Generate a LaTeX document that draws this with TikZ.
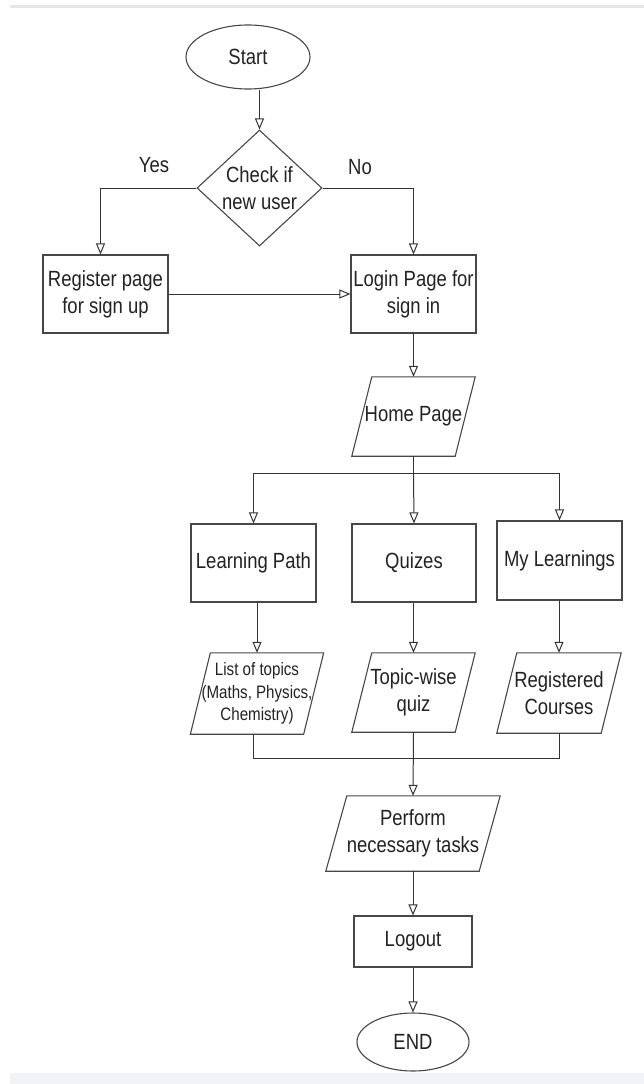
\documentclass[tikz,border=0pt]{standalone}
\usepackage{fontspec}
\setmainfont{Liberation Sans}[FakeStretch=0.84]
\usetikzlibrary{shapes.geometric,arrows.meta}
\definecolor{ink}{HTML}{222222}
\definecolor{edge}{HTML}{474747}
\definecolor{wire}{HTML}{333333}
\definecolor{topline}{HTML}{E6E6E6}
\definecolor{band}{HTML}{F1F3F6}
\newcommand{\ioshape}[2]{\draw[ioline] ([xshift=#2]#1.north west) -- ([xshift=#2]#1.north east) -- ([xshift=-#2]#1.south east) -- ([xshift=-#2]#1.south west) -- cycle;}
\tikzset{
  base/.style={text=ink, font=\fontsize{22}{27}\selectfont, align=center, inner sep=1pt},
  box/.style={base, rectangle, draw=edge, line width=1.1pt},
  term/.style={base, ellipse, draw=edge, line width=1.1pt, inner sep=0pt},
  dia/.style={diamond, draw=edge, line width=1.1pt, inner sep=0pt},
  io/.style={base, rectangle, draw=none},
  ioline/.style={draw=edge, line width=1.1pt},
  lbl/.style={text=ink, font=\fontsize{22}{27}\selectfont},
  wire/.style={draw=wire, line width=1pt},
  arr/.style={wire, -{Triangle[length=11pt,width=9pt,fill=white]}},
}
\begin{document}
\begin{tikzpicture}[x=1pt,y=-1pt]
\useasboundingbox (0,0) rectangle (644,1084);
\draw[topline, line width=3pt] (10,6) -- (644,6);
\fill[band] (10,1073) rectangle (644,1084);

\node[term, minimum width=124pt, minimum height=64pt] (st) at (248,57) {Start};
\node[dia, minimum width=125pt, minimum height=116pt] (d) at (259.5,188) {};
\node[base] (dt) at (259.5,188) {Check if\\new user};
\node[lbl] (yes) at (154,165) {Yes};
\node[lbl] (no) at (360,167) {No};

\node[box, minimum width=125pt, minimum height=78pt] (reg) at (105.5,294) {Register page\\for sign up};
\node[box, minimum width=125pt, minimum height=78pt] (login) at (413.5,294) {Login Page for\\sign in};

\node[io, minimum width=103pt, minimum height=79pt] (home) at (413.5,416.5) {Home Page};
\ioshape{home}{10pt}

\node[box, minimum width=125pt, minimum height=78pt] (lp) at (253.5,563) {Learning Path};
\node[box, minimum width=124pt, minimum height=78pt] (qz) at (414,563) {Quizes};
\node[box, minimum width=125pt, minimum height=79pt] (ml) at (559.5,560.5) {My Learnings};

\node[io, minimum width=112pt, minimum height=81pt, font=\fontsize{18}{22.5}\selectfont] (lt) at (257,693.5) {List of topics\\(Maths, Physics,\\Chemistry)};
\ioshape{lt}{10pt}
\node[io, minimum width=103pt, minimum height=79pt] (tq) at (413.5,692.5) {Topic-wise\\quiz};
\ioshape{tq}{10pt}
\node[io, minimum width=104pt, minimum height=80pt] (rc) at (559,693) {Registered\\Courses};
\ioshape{rc}{10pt}

\node[io, minimum width=153pt, minimum height=75pt] (pf) at (413,833.5) {Perform\\necessary tasks};
\ioshape{pf}{10.5pt}
\node[box, minimum width=118pt, minimum height=51pt] (lo) at (413,941.5) {Logout};
\node[term, minimum width=112pt, minimum height=58pt] (en) at (413,1042) {END};

\draw[arr] (d.north |- st.south) -- (d.north);
\draw[arr] (d.west) -| ([xshift=-5pt]reg.north);
\draw[arr] (d.east) -| (login.north);
\draw[arr] (reg.east) -- (login.west);
\draw[arr] (login.south) -- (home.north);
\coordinate (hb) at (413.5,473);
\draw[wire] (home.south) -- (hb);
\draw[arr] (hb) -| (lp.north);
\draw[arr] (hb) -- (qz.north);
\draw[arr] (hb) -| (ml.north);
\draw[arr] (lt.north |- lp.south) -- (lt.north);
\draw[arr] (tq.north |- qz.south) -- (tq.north);
\draw[arr] (rc.north |- ml.south) -- (rc.north);
\coordinate (mb) at (413,758);
\draw[wire] (lp.south |- lt.south) |- (mb);
\draw[wire] (rc.south) |- (mb);
\draw[arr] (tq.south) -- (pf.north);
\draw[arr] (pf.south) -- (lo.north);
\draw[arr] (lo.south) -- (en.north);
\end{tikzpicture}
\end{document}
